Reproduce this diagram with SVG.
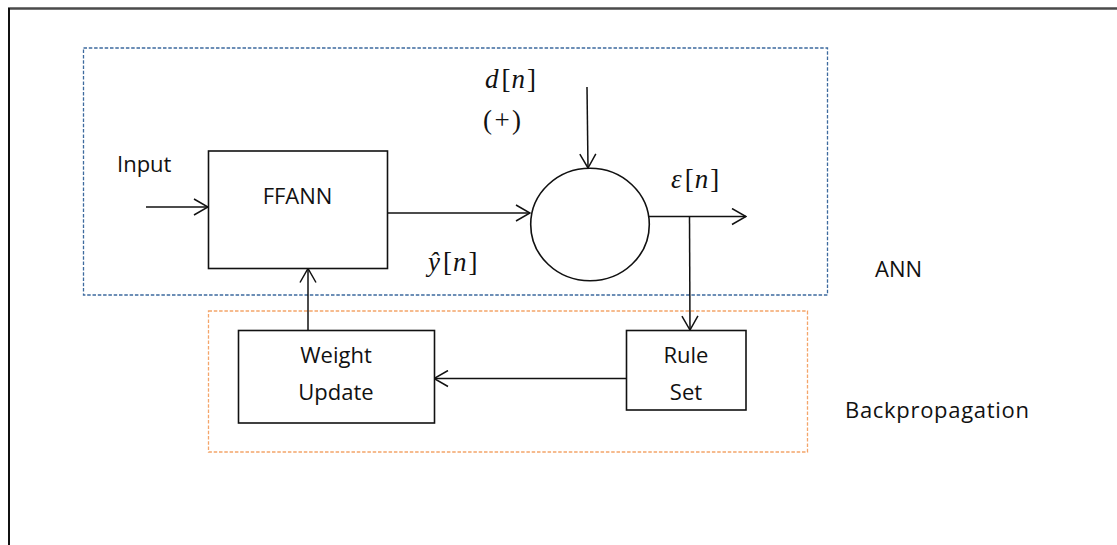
<svg xmlns="http://www.w3.org/2000/svg" width="1117" height="545" viewBox="0 0 1117 545">
  <defs>
    <style>
      .box { fill: #ffffff; stroke: #111111; stroke-width: 1.6; }
      .wire { fill: none; stroke: #111111; stroke-width: 1.5; }
      .label { font-family: "Open Sans", "Liberation Sans", sans-serif; font-size: 22px; fill: #111111; }
      .math { font-family: "Liberation Serif", "DejaVu Serif", serif; font-size: 27px; fill: #111111; }
      .mathIt { font-style: italic; }
      .grpAnn { fill: none; stroke: #3d6a9e; stroke-width: 1.3; stroke-dasharray: 3.5 1.8; }
      .grpBp { fill: none; stroke: #f4a56a; stroke-width: 1.3; stroke-dasharray: 3.5 1.8; }
    </style>
    <marker id="chevron" markerUnits="userSpaceOnUse" viewBox="0 0 16 18" refX="15" refY="9" markerWidth="16" markerHeight="18" orient="auto">
      <path d="M1,1 L15,9 L1,17" fill="none" stroke="#111111" stroke-width="1.5"/>
    </marker>
  </defs>

  <rect width="1117" height="545" fill="#ffffff"/>

  <!-- page frame -->
  <line x1="8" y1="8.5" x2="1117" y2="8.5" stroke="#4a4a4a" stroke-width="2.5"/>
  <line x1="9" y1="8" x2="9" y2="545" stroke="#111111" stroke-width="2"/>

  <!-- grouping regions -->
  <g id="ann-region">
    <rect class="grpAnn" x="83.5" y="48" width="744" height="247"/>
    <text class="label" x="875" y="277">ANN</text>
  </g>
  <g id="backprop-region">
    <rect class="grpBp" x="208.5" y="311" width="599" height="141"/>
    <text class="label" x="845" y="418" textLength="184">Backpropagation</text>
  </g>

  <!-- connectors -->
  <g id="connectors">
    <line class="wire" x1="146" y1="207" x2="208" y2="207" marker-end="url(#chevron)"/>
    <line class="wire" x1="388" y1="213" x2="530" y2="213" marker-end="url(#chevron)"/>
    <line class="wire" x1="587" y1="87" x2="588" y2="168" marker-end="url(#chevron)"/>
    <line class="wire" x1="649" y1="216.5" x2="746" y2="216.5" marker-end="url(#chevron)"/>
    <line class="wire" x1="689.5" y1="216.5" x2="690" y2="330" marker-end="url(#chevron)"/>
    <line class="wire" x1="626" y1="378.5" x2="434" y2="378.5" marker-end="url(#chevron)"/>
    <line class="wire" x1="308" y1="330" x2="308" y2="268.5" marker-end="url(#chevron)"/>
  </g>

  <!-- nodes -->
  <g id="input">
    <text class="label" x="117" y="172">Input</text>
  </g>

  <g id="ffann">
    <rect class="box" x="208.5" y="151" width="179" height="117.5"/>
    <text class="label" x="297.5" y="204" text-anchor="middle">FFANN</text>
  </g>

  <g id="summer">
    <ellipse class="box" cx="590" cy="224.5" rx="59.3" ry="56.2"/>
  </g>

  <g id="desired">
    <text class="math" x="485" y="88"><tspan class="mathIt">d</tspan><tspan dx="3">[</tspan><tspan class="mathIt" dx="1">n</tspan><tspan dx="2">]</tspan></text>
    <text class="math" x="483" y="129" font-size="25" textLength="38">(+)</text>
  </g>

  <g id="estimate">
    <text class="math" x="428" y="271"><tspan class="mathIt">ŷ</tspan><tspan dx="3">[</tspan><tspan class="mathIt" dx="1">n</tspan><tspan dx="2">]</tspan></text>
  </g>

  <g id="error">
    <text class="math" x="671" y="188"><tspan class="mathIt">ε</tspan><tspan dx="3">[</tspan><tspan class="mathIt" dx="1">n</tspan><tspan dx="2">]</tspan></text>
  </g>

  <g id="weight-update">
    <rect class="box" x="238.5" y="330.5" width="196" height="92.5"/>
    <text class="label" x="336" y="363" text-anchor="middle">Weight</text>
    <text class="label" x="336" y="400" text-anchor="middle">Update</text>
  </g>

  <g id="rule-set">
    <rect class="box" x="626.5" y="330.5" width="119.5" height="79.5"/>
    <text class="label" x="686" y="363" text-anchor="middle">Rule</text>
    <text class="label" x="686" y="400" text-anchor="middle">Set</text>
  </g>
</svg>
